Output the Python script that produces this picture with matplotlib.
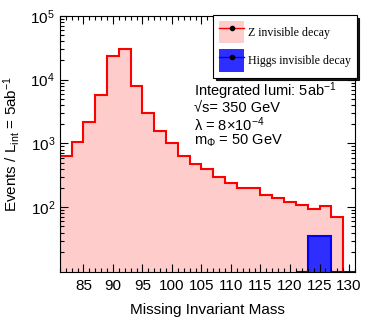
import numpy as np
import matplotlib
matplotlib.use("Agg")
import matplotlib.pyplot as plt
from matplotlib.patches import Patch
from matplotlib.lines import Line2D
from matplotlib.ticker import MultipleLocator, LogLocator, NullFormatter, FixedLocator

plt.rcParams['font.family'] = ['Liberation Sans', 'DejaVu Sans']
plt.rcParams['mathtext.fontset'] = 'custom'
plt.rcParams['mathtext.rm'] = 'Liberation Sans'
plt.rcParams['mathtext.it'] = 'Liberation Sans:italic'
plt.rcParams['mathtext.bf'] = 'Liberation Sans:bold'

# histogram data (2 GeV bins)
z_edges = np.arange(81, 130, 2)
z_counts = [646, 1069, 2203, 5770, 23600, 30800, 8070, 3050, 1590, 1032,
            646, 472, 394, 302, 238, 203, 198, 158, 140, 120,
            110, 94, 106, 71]
h_edges = np.arange(121, 132, 2)
h_counts = [0, 36, 36, 0, 0]

y_min, y_max = 9.6, 1e5

fig = plt.figure(figsize=(3.74, 3.24), dpi=100)
ax = fig.add_axes([0.160, 0.160, 0.789, 0.791])

ax.stairs(z_counts, z_edges, baseline=y_min, fill=True, color='#ffcccc')
ax.stairs(z_counts, z_edges, baseline=y_min, color='red', lw=1.5)

h_vals = np.where(np.array(h_counts) > 0, h_counts, y_min)
ax.stairs(h_vals, h_edges, baseline=y_min, fill=True, color='#2e2eff')
ax.stairs(h_vals, h_edges, baseline=y_min, color='blue', lw=1.5)

ax.set_yscale('log')
ax.set_xlim(81, 131)
ax.set_ylim(y_min, y_max)
ax.xaxis.set_major_locator(FixedLocator([85, 90, 95, 100, 105, 110, 115, 120, 125, 130]))
ax.xaxis.set_minor_locator(MultipleLocator(1))
ax.yaxis.set_major_locator(FixedLocator([1e2, 1e3, 1e4, 1e5]))
ax.yaxis.set_minor_locator(LogLocator(base=10, subs=np.arange(2, 10), numticks=20))
ax.yaxis.set_minor_formatter(NullFormatter())
ax.tick_params(which='both', direction='in', top=True, right=True, labelsize=11)
ax.tick_params(which='major', length=6, width=0.8)
ax.tick_params(which='minor', length=3, width=0.8)
ax.tick_params(axis='x', pad=5)

ax.set_xlabel('Missing Invariant Mass', fontsize=11, labelpad=7)
ax.set_ylabel('Events / L$_{\\rm int}$ = 5ab$^{-1}$', fontsize=11, labelpad=6)

# annotations
ax.text(0.455, 0.705, 'Integrated lumi: 5ab$^{-1}$', transform=ax.transAxes,
        fontsize=10.5, va='center')
ax.text(0.455, 0.639, '\u221as= 350 GeV', transform=ax.transAxes,
        fontsize=10.5, va='center')
ax.text(0.455, 0.576, '\u03bb = 8\u00d710$^{-4}$', transform=ax.transAxes,
        fontsize=10.5, va='center')
ax.text(0.455, 0.512, 'm$_{\u03a6}$ = 50 GeV', transform=ax.transAxes,
        fontsize=10.5, va='center')

# legend
z_handle = (Patch(facecolor='#ffcccc', edgecolor='none'),
            Line2D([], [], color='red', lw=1, marker='o', markersize=3,
                   markerfacecolor='black', markeredgecolor='black'))
h_handle = (Patch(facecolor='#2e2eff', edgecolor='none'),
            Line2D([], [], color='blue', lw=1, marker='o', markersize=3,
                   markerfacecolor='black', markeredgecolor='black'))
leg = fig.legend([z_handle, h_handle], ['Z invisible decay', 'Higgs invisible decay'],
                 loc='upper left', bbox_to_anchor=(213 / 374, 1 - 15 / 324),
                 prop={'family': 'Liberation Serif', 'size': 8.6},
                 fancybox=False, shadow={'color': 'black', 'alpha': 0.9},
                 framealpha=1, edgecolor='black',
                 handlelength=2.1, handleheight=2.5, labelspacing=0.5,
                 borderpad=0.5, handletextpad=0.3, borderaxespad=0)
leg.get_frame().set_linewidth(0.8)

fig.savefig('out.png', dpi=100)
